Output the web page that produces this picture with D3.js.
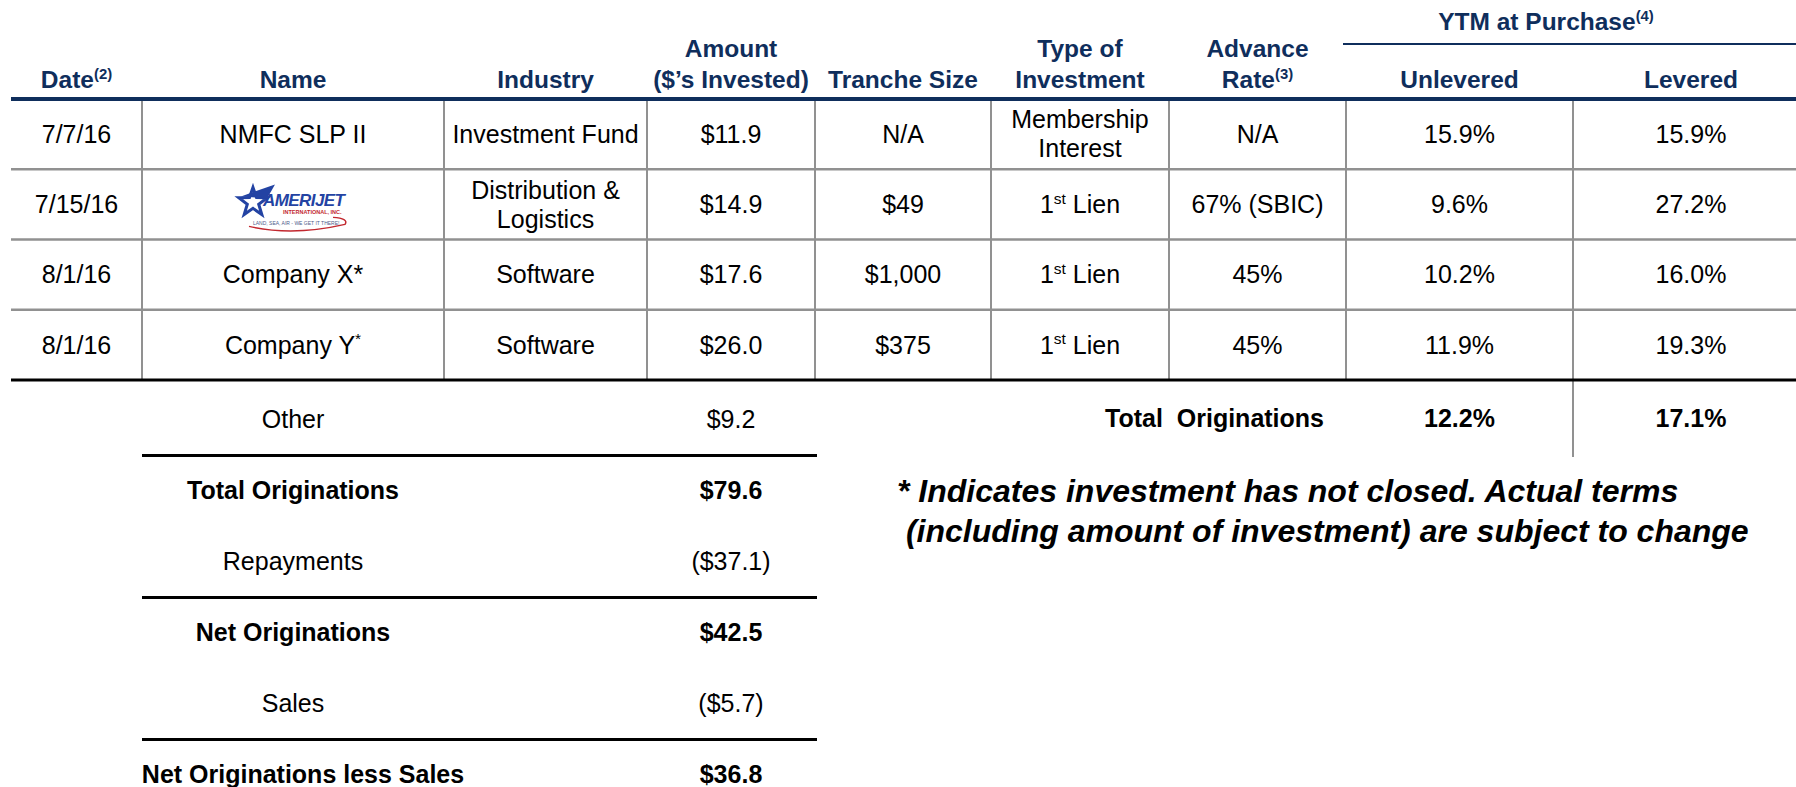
<!DOCTYPE html>
<html lang="en">
<head>
  <meta charset="UTF-8" />
  <title>Originations table</title>
  <style>
    body { margin: 0; background: #fff; font-family: "Liberation Sans", Arial, Helvetica, sans-serif; }
    svg { display: block; }
    text { white-space: pre; }
    .hdr { fill: #0f2e5c; font-weight: bold; font-size: 24.5px; }
    .cell { fill: #000; font-size: 25px; }
    .bold { font-weight: bold; }
    .note { font-size: 32px; font-weight: bold; font-style: italic; fill: #000; }
  </style>
</head>
<body>

<svg id="chart"></svg>

<script src="https://d3js.org/d3.v7.min.js"></script>
<script>
  // ---- data ----
  const headers = ["Date^(2)", "Name", "Industry", "Amount\n($’s Invested)", "Tranche Size",
                   "Type of\nInvestment", "Advance\nRate^(3)", "Unlevered", "Levered"];
  const groupHeader = "YTM at Purchase^(4)";

  const dates = ["7/7/16", "7/15/16", "8/1/16", "8/1/16"];
  const names = ["NMFC SLP II", "", "Company X*", "Company Y^*"];   // row 2 is a logo
  const industries = ["Investment Fund", "Distribution &\nLogistics", "Software", "Software"];
  const amounts = ["$11.9", "$14.9", "$17.6", "$26.0"];
  const tranches = ["N/A", "$49", "$1,000", "$375"];
  const investTypes = ["Membership\nInterest", "1^st Lien", "1^st Lien", "1^st Lien"];
  const advanceRates = ["N/A", "67% (SBIC)", "45%", "45%"];
  const unlevered = ["15.9%", "9.6%", "10.2%", "11.9%"];
  const levered = ["15.9%", "27.2%", "16.0%", "19.3%"];

  const summaryLabels = ["Other", "Total Originations", "Repayments", "Net Originations", "Sales", "Net Originations less Sales"];
  const summaryValues = ["$9.2", "$79.6", "($37.1)", "$42.5", "($5.7)", "$36.8"];
  const summaryBold = [false, true, false, true, false, true];

  const totalLabel = "Total  Originations";
  const totalYtm = ["12.2%", "17.1%"];

  const footnote = ["* Indicates investment has not closed. Actual terms",
                    " (including amount of investment) are subject to change"];

  // ---- layout ----
  const width = 1796, height = 787;
  const colEdges = [11, 142, 444, 647, 815, 991, 1169, 1346, 1573, 1809];
  const navy = "#0f2e5c", grid = "#919191";

  const svg = d3.select("#chart").attr("width", width).attr("height", height);
  svg.append("rect").attr("width", width).attr("height", height).attr("fill", "#fff");

  const colIdx = d3.range(headers.length);
  const xLeft = d3.scaleOrdinal().domain(colIdx).range(colEdges.slice(0, -1));
  const xRight = d3.scaleOrdinal().domain(colIdx).range(colEdges.slice(1));
  const xMid = i => (xLeft(i) + xRight(i)) / 2;

  const y = d3.scaleBand().domain(d3.range(dates.length)).range([99, 380]);
  const ySum = d3.scaleLinear().domain([0, summaryLabels.length - 1]).range([428, 783]);

  // writes "a^sup b" strings as tspans with raised superscripts
  function rich(textSel, str, size) {
    const parts = str.split(/(\^[^\s]+)/).filter(p => p !== "");
    let raised = false;
    parts.forEach(p => {
      const t = textSel.append("tspan");
      if (p.startsWith("^")) {
        t.text(p.slice(1)).attr("font-size", size * 0.62).attr("dy", -size * 0.38);
        raised = true;
      } else {
        t.text(p);
        if (raised) { t.attr("dy", size * 0.38); raised = false; }
      }
    });
  }

  // centred multi-line label
  function label(g, str, x, cy, cls, size, lineH) {
    const lines = str.split("\n");
    lines.forEach((ln, k) => {
      const base = cy + (k - (lines.length - 1) / 2) * lineH + size * 0.35;
      const t = g.append("text").attr("class", cls).attr("x", x).attr("y", base)
        .attr("text-anchor", "middle");
      rich(t, ln, size);
    });
  }

  // ---- header ----
  const head = svg.append("g");
  headers.forEach((h, i) => {
    const lines = h.split("\n");
    lines.forEach((ln, k) => {
      const t = head.append("text").attr("class", "hdr")
        .attr("x", xMid(i)).attr("y", 88 - (lines.length - 1 - k) * 31)
        .attr("text-anchor", "middle");
      rich(t, ln, 24);
    });
  });
  const ytmT = head.append("text").attr("class", "hdr")
    .attr("x", 1546).attr("y", 30).attr("text-anchor", "middle");
  rich(ytmT, groupHeader, 24);
  head.append("line").attr("x1", xLeft(7) - 3).attr("x2", width).attr("y1", 44).attr("y2", 44)
    .attr("stroke", navy).attr("stroke-width", 2);

  // ---- grid ----
  const gridG = svg.append("g");
  d3.range(1, dates.length).forEach(r => {
    gridG.append("line").attr("x1", colEdges[0]).attr("x2", width)
      .attr("y1", y(r)).attr("y2", y(r)).attr("stroke", grid).attr("stroke-width", 2.5);
  });
  colIdx.slice(1).forEach(i => {
    gridG.append("line").attr("x1", xLeft(i)).attr("x2", xLeft(i))
      .attr("y1", 99).attr("y2", i === 8 ? 457 : 380)
      .attr("stroke", grid).attr("stroke-width", 2);
  });
  gridG.append("line").attr("x1", colEdges[0]).attr("x2", width).attr("y1", 99).attr("y2", 99)
    .attr("stroke", navy).attr("stroke-width", 4);
  gridG.append("line").attr("x1", colEdges[0]).attr("x2", width).attr("y1", 380).attr("y2", 380)
    .attr("stroke", "#000").attr("stroke-width", 3);

  // ---- body ----
  const body = svg.append("g");
  const columns = [dates, names, industries, amounts, tranches, investTypes, advanceRates, unlevered, levered];
  columns.forEach((col, i) => {
    col.forEach((v, r) => {
      if (v) label(body, v, xMid(i), y(r) + y.bandwidth() / 2, "cell", 25, 29);
    });
  });

  // logo in the name column, row 2
  const logo = body.append("g")
    .attr("transform", `translate(${xMid(1)},${y(1) + y.bandwidth() / 2})`);
  const star = d3.range(10).map(k => {
    const a = -Math.PI / 2 + k * Math.PI / 5, rr = k % 2 ? 6 : 15;
    return [-40 + rr * Math.cos(a), -2 + rr * Math.sin(a)];
  });
  logo.append("path").attr("d", d3.line()(star) + "Z")
    .attr("fill", "none").attr("stroke", "#2343a3").attr("stroke-width", 3);
  logo.append("path").attr("d", "M-52,-8 L-18,-20 L-26,-6 Z").attr("fill", "#2343a3");
  logo.append("text").attr("x", -30).attr("y", 2).attr("font-size", 17).attr("font-weight", "bold")
    .attr("font-style", "italic").attr("fill", "#2343a3").attr("textLength", 82)
    .text("AMERIJET");
  logo.append("text").attr("x", -10).attr("y", 10).attr("font-size", 5.5).attr("font-weight", "bold")
    .attr("fill", "#c2282f").text("INTERNATIONAL, INC.");
  logo.append("text").attr("x", -40).attr("y", 21).attr("font-size", 5).attr("fill", "#4d5b8a")
    .text("LAND, SEA, AIR - WE GET IT THERE!");
  logo.append("path").attr("d", "M-44,22 Q0,32 52,20 Q56,14 40,13")
    .attr("fill", "none").attr("stroke", "#c2282f").attr("stroke-width", 1.5);

  // ---- summary (left) ----
  const sum = svg.append("g");
  summaryLabels.forEach((lab, k) => {
    sum.append("text").attr("class", "cell" + (summaryBold[k] ? " bold" : ""))
      .attr("x", xMid(1) + (k === summaryLabels.length - 1 ? 10 : 0)).attr("y", ySum(k))
      .attr("text-anchor", "middle").text(lab);
    sum.append("text").attr("class", "cell" + (summaryBold[k] ? " bold" : ""))
      .attr("x", xMid(3)).attr("y", ySum(k)).attr("text-anchor", "middle").text(summaryValues[k]);
  });
  [0, 2, 4].forEach(k => {
    const ly = (ySum(k) + ySum(k + 1)) / 2 - 8;
    sum.append("line").attr("x1", xLeft(1)).attr("x2", xRight(3) + 2)
      .attr("y1", ly).attr("y2", ly).attr("stroke", "#000").attr("stroke-width", 3);
  });

  // ---- totals (right) ----
  sum.append("text").attr("class", "cell bold").attr("x", 1324).attr("y", ySum(0) - 1)
    .attr("text-anchor", "end").text(totalLabel);
  totalYtm.forEach((v, j) => {
    sum.append("text").attr("class", "cell bold").attr("x", xMid(7 + j)).attr("y", ySum(0) - 1)
      .attr("text-anchor", "middle").text(v);
  });

  // ---- footnote ----
  footnote.forEach((ln, k) => {
    svg.append("text").attr("class", "note").attr("x", 897).attr("y", 502 + k * 40).text(ln);
  });
</script>

</body>
</html>
